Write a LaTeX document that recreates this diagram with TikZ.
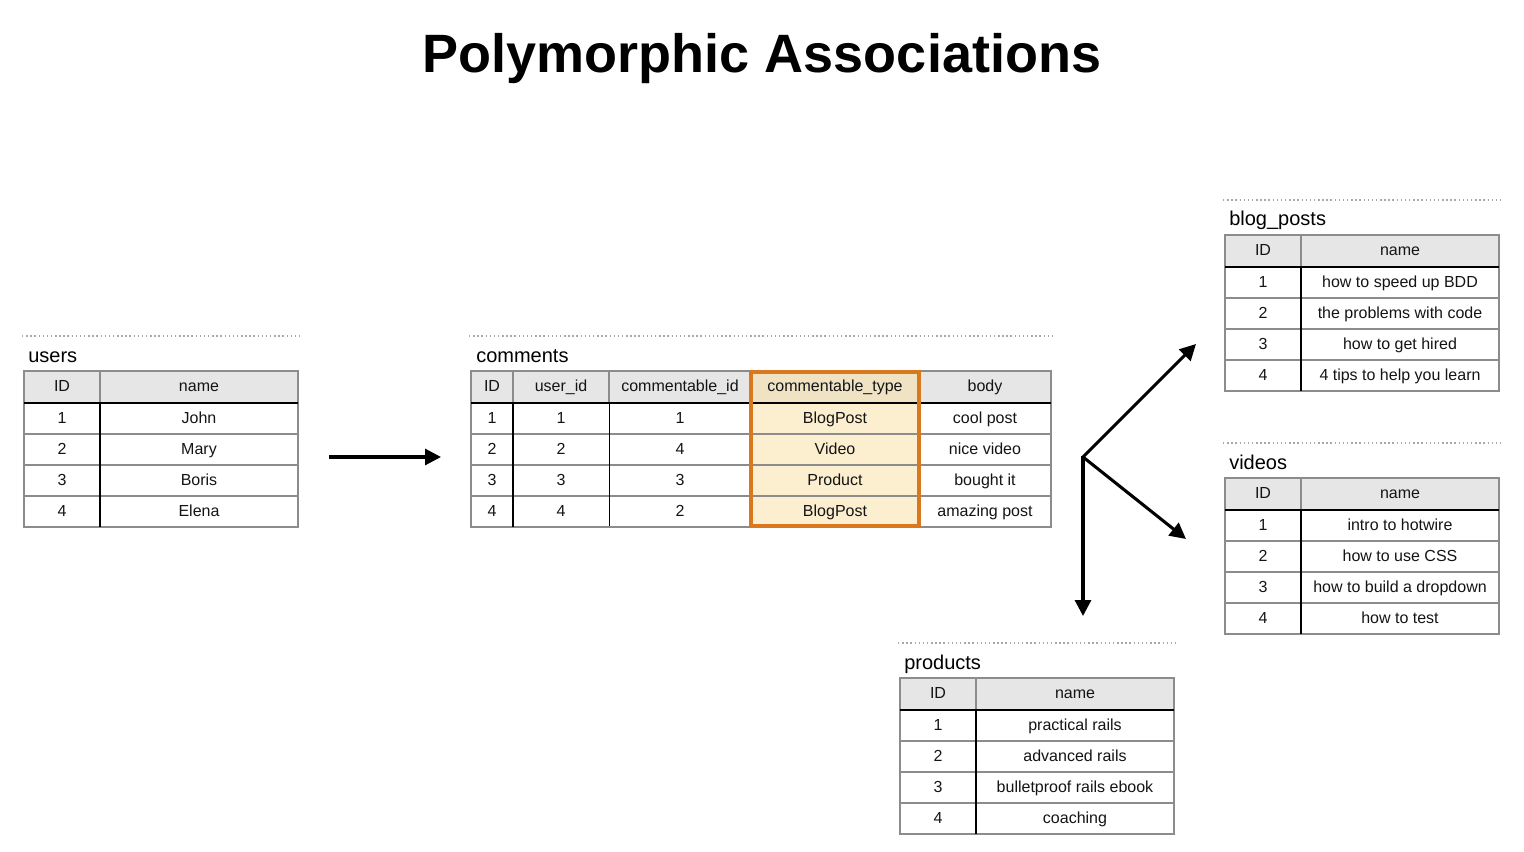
\documentclass[tikz,border=0pt]{standalone}
\usepackage{fontspec}
\setmainfont{Liberation Sans}
\usetikzlibrary{arrows.meta}
\definecolor{hdr}{HTML}{E6E6E6}
\definecolor{gridc}{HTML}{8C8C8C}
\definecolor{dotc}{HTML}{A8A8A8}
\definecolor{hl}{HTML}{FCEFCF}
\definecolor{hlhdr}{HTML}{EFE3C4}
\definecolor{orng}{HTML}{D9781E}
\tikzset{
  cell/.style={inner sep=0pt, text height=8.6pt, text depth=2.4pt, font=\fontsize{12}{14}\selectfont, text=black!92},
  tlabel/.style={anchor=base west, inner sep=0pt, font=\fontsize{15}{18}\selectfont},
  dotline/.style={dotc, line width=1.1pt, dotted},
  thin grid/.style={gridc, line width=0.8pt},
  thick rule/.style={black, line width=2.2pt},
  arr/.style={line width=2.3pt, -{Triangle[length=12pt,width=12pt]}},
}
\newcommand\twotab[8]{%
  \begin{scope}[shift={(#2,#3)}]
    \draw[dotline] (-2,-35) -- (276,-35);
    \node[tlabel] (#1-title) at (4,-9) {#4};
    \fill[hdr] (0,0) rectangle (274,31);
    \draw[thin grid] (0,63) -- (274,63) (0,94) -- (274,94) (0,125) -- (274,125);
    \draw[thin grid] (76,0) -- (76,31);
    \draw[thin grid] (0,0) rectangle (274,156);
    \draw[thick rule] (0,32) -- (274,32);
    \draw[thick rule] (76,32) -- (76,156);
    \node[cell] (#1-h1) at (38,16) {ID};
    \node[cell] (#1-h2) at (175,16) {name};
    \node[cell] (#1-r1a) at (38,48) {1};
    \node[cell] (#1-r2a) at (38,79) {2};
    \node[cell] (#1-r3a) at (38,110) {3};
    \node[cell] (#1-r4a) at (38,141) {4};
    \node[cell] (#1-r1b) at (175,48) {#5};
    \node[cell] (#1-r2b) at (175,79) {#6};
    \node[cell] (#1-r3b) at (175,110) {#7};
    \node[cell] (#1-r4b) at (175,141) {#8};
  \end{scope}}
\begin{document}
\begin{tikzpicture}[x=0.75pt, y=-0.75pt]
\useasboundingbox (0,0) rectangle (1524,852);
% title
\node[anchor=base, inner sep=0pt, font=\bfseries\fontsize{40.5}{46}\selectfont] (title) at (762,73) {Polymorphic Associations};

% users
\twotab{users}{24}{371}{users}{John}{Mary}{Boris}{Elena}
% blog_posts
\twotab{blog}{1225}{235}{blog\_posts}{how to speed up BDD}{the problems with code}{how to get hired}{4 tips to help you learn}
% videos
\twotab{videos}{1225}{478}{videos}{intro to hotwire}{how to use CSS}{how to build a dropdown}{how to test}
% products
\twotab{products}{900}{678}{products}{practical rails}{advanced rails}{bulletproof rails ebook}{coaching}

% comments
\begin{scope}[shift={(471,371)}]
  \draw[dotline] (-2,-35) -- (582,-35);
  \node[tlabel] (comments-title) at (5,-9) {comments};
  \fill[hdr] (0,0) rectangle (580,31);
  \fill[hl] (280,0) rectangle (448,156);
  \fill[hlhdr] (280,0) rectangle (448,31);
  \draw[thin grid] (0,63) -- (580,63) (0,94) -- (580,94) (0,125) -- (580,125);
  \draw[thin grid] (42,0) -- (42,31) (138,0) -- (138,31) (280,0) -- (280,31) (448,0) -- (448,31);
  \draw[black, line width=0.7pt] (138,32) -- (138,156) (280,32) -- (280,156) (448,32) -- (448,156);
  \draw[thin grid] (0,0) rectangle (580,156);
  \draw[thick rule] (0,32) -- (580,32);
  \draw[thick rule] (42,32) -- (42,156);
  \draw[orng, line width=2.3pt] (280,1) rectangle (448,155);
  \node[cell] (c-h1) at (21,16) {ID};
  \node[cell] (c-h2) at (90,16) {user\_id};
  \node[cell] (c-h3) at (209,16) {commentable\_id};
  \node[cell] (c-h4) at (364,16) {commentable\_type};
  \node[cell] (c-h5) at (514,16) {body};
  \foreach \i/\a/\b/\c/\d in {1/1/1/BlogPost/cool post, 2/2/4/Video/nice video, 3/3/3/Product/bought it, 4/4/2/BlogPost/amazing post}{
    \pgfmathsetmacro\yy{17+31*\i}
    \node[cell] (c-r\i a) at (21,\yy) {\i};
    \node[cell] (c-r\i b) at (90,\yy) {\a};
    \node[cell] (c-r\i c) at (209,\yy) {\b};
    \node[cell] (c-r\i d) at (364,\yy) {\c};
    \node[cell] (c-r\i e) at (514,\yy) {\d};
  }
\end{scope}

% connectors
\coordinate (u-out) at (329,457);
\coordinate (c-in) at (441,457);
\coordinate (hub) at (1083,457);
\coordinate (to-blog) at (1196,344);
\coordinate (to-videos) at (1186,539);
\coordinate (to-products) at (1083,616);
\draw[arr] (u-out) -- (c-in);
\draw[arr] (hub) -- (to-blog);
\draw[arr] (hub) -- (to-videos);
\draw[arr] ([yshift=0.8pt]hub) -- (to-products);
\end{tikzpicture}
\end{document}
